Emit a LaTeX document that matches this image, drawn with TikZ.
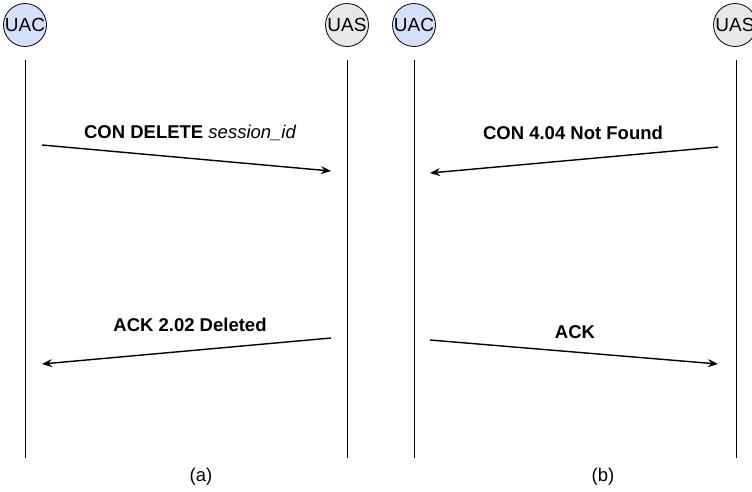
\documentclass[tikz,border=0pt]{standalone}
\usepackage{fontspec}
\setmainfont{Liberation Sans}
\usetikzlibrary{arrows.meta}
\definecolor{uacfill}{HTML}{D4E0F9}
\definecolor{uasfill}{HTML}{E8E8E8}
\tikzset{
  actor/.style={circle, draw=black, line width=0.8pt, minimum size=43pt, inner sep=0pt,
    font=\fontsize{19}{22}\selectfont},
  uac/.style={actor, fill=uacfill},
  uas/.style={actor, fill=uasfill},
  life/.style={line width=1pt, black},
  msg/.style={line width=1.4pt, -{Stealth[length=10pt,width=8pt]}},
  lbl/.style={font=\fontsize{18.5}{22}\selectfont\bfseries, inner sep=0pt},
  captxt/.style={font=\fontsize{18.5}{22}\selectfont, inner sep=0pt}
}
\begin{document}
\begin{tikzpicture}[x=1pt,y=-1pt]
\useasboundingbox (0,0) rectangle (752,491);
% actors
\node[uac] (uac1) at (25,25) {UAC};
\node[uas] (uas1) at (347,25) {UAS};
\node[uac] (uac2) at (414,25) {UAC};
\node[uas] (uas2) at (735,25) {UAS};
% lifelines
\coordinate (l1t) at (25,60);  \coordinate (l1b) at (25,458);
\coordinate (l2t) at (347,60); \coordinate (l2b) at (347,458);
\coordinate (l3t) at (414,60); \coordinate (l3b) at (414,458);
\coordinate (l4t) at (736,60); \coordinate (l4b) at (736,458);
\draw[life] (l1t) -- (l1b);
\draw[life] (l2t) -- (l2b);
\draw[life] (l3t) -- (l3b);
\draw[life] (l4t) -- (l4b);
% message endpoints
\coordinate (m1s) at (42,145);  \coordinate (m1e) at (331,171);
\coordinate (m2s) at (718,147); \coordinate (m2e) at (430,173);
\coordinate (m3s) at (331,338); \coordinate (m3e) at (42,364);
\coordinate (m4s) at (430,340); \coordinate (m4e) at (718,364);
\draw[msg] (m1s) -- (m1e);
\draw[msg] (m2s) -- (m2e);
\draw[msg] (m3s) -- (m3e);
\draw[msg] (m4s) -- (m4e);
% labels
\node[lbl] (t1) at (190,133) {CON DELETE \mdseries\itshape session\_id};
\node[lbl] (t2) at (573,133) {CON 4.04 Not Found};
\node[lbl] (t3) at (190,325) {ACK 2.02 Deleted};
\node[lbl] (t4) at (575,332) {ACK};
% captions
\node[captxt] (ca) at (201,477) {(a)};
\node[captxt] (cb) at (603,477) {(b)};
\end{tikzpicture}
\end{document}
